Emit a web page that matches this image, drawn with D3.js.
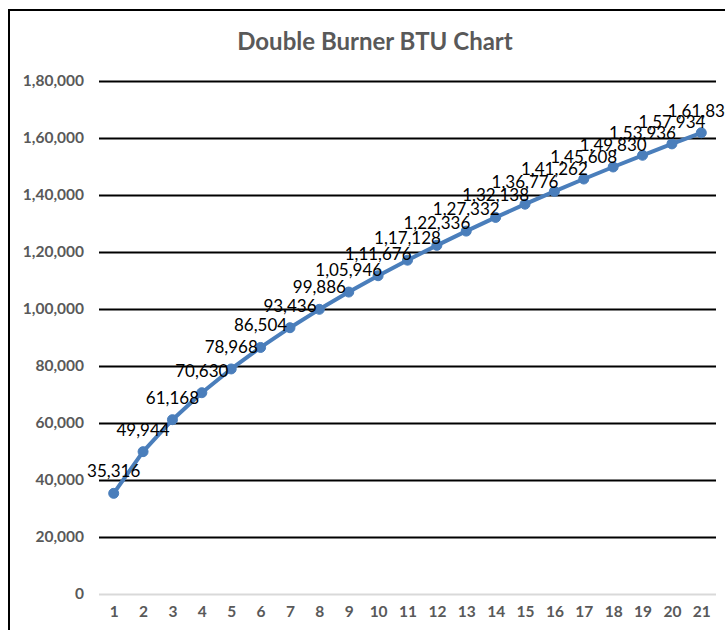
<!DOCTYPE html>
<html>
<head>
<meta charset="utf-8">
<script src="https://cdn.jsdelivr.net/npm/d3@7"></script>
<style>
  body { margin: 0; background: #fff; }
</style>
</head>
<body>
<script>
'use strict';

// chart data
const chartTitle = "Double Burner BTU Chart";
const burners = [1, 2, 3, 4, 5, 6, 7, 8, 9, 10, 11, 12, 13, 14, 15, 16, 17, 18, 19, 20, 21];
const btu = [35316, 49944, 61168, 70630, 78968, 86504, 93436, 99886, 105946, 111676,
  117128, 122336, 127332, 132138, 136776, 141262, 145608, 149830, 153936, 157934, 161834];
const yTicks = [0, 20000, 40000, 60000, 80000, 100000, 120000, 140000, 160000, 180000];

// indian style grouping: 1,61,834
function indianFormat(n) {
  let s = String(Math.round(n));
  if (s.length <= 3) return s;
  let last3 = s.slice(-3);
  let rest = s.slice(0, -3);
  rest = rest.replace(/\B(?=(\d{2})+(?!\d))/g, ',');
  return rest + ',' + last3;
}

const svg = d3.select('body')
  .append('svg')
  .attr('width', 725)
  .attr('height', 630)
  .style('font-family', 'Lato, "Open Sans", sans-serif');

// chart border (right and bottom run off the picture)
svg.append('rect')
  .attr('x', 9)
  .attr('y', 10)
  .attr('width', 740)
  .attr('height', 640)
  .attr('fill', 'white')
  .attr('stroke', 'black')
  .attr('stroke-width', 2);

// title
svg.append('text')
  .attr('x', 375)
  .attr('y', 50)
  .attr('text-anchor', 'middle')
  .style('font-size', '24px')
  .style('font-weight', 'bold')
  .attr('fill', '#595959')
  .text(chartTitle);

// scales
const xScale = d3.scalePoint()
  .domain(burners)
  .range([99, 716])
  .padding(0.5);

const yScale = d3.scaleLinear()
  .domain([0, 180000])
  .range([594, 81]);

// gridlines + y labels
const yAxis = svg.append('g')
  .attr('transform', 'translate(99, 0)')
  .call(d3.axisLeft(yScale)
    .tickValues(yTicks)
    .tickSize(-617)
    .tickPadding(15)
    .tickFormat(indianFormat));
yAxis.select('.domain').remove();
yAxis.selectAll('.tick line')
  .attr('stroke', d => d === 0 ? '#d9d9d9' : 'black')
  .attr('stroke-width', 2);
yAxis.selectAll('.tick text')
  .attr('fill', '#595959')
  .style('font-family', 'Lato, "Open Sans", sans-serif')
  .style('font-size', '15.5px')
  .style('font-weight', 'bold');

// x labels
const xAxis = svg.append('g')
  .attr('transform', 'translate(0, 594)')
  .call(d3.axisBottom(xScale).tickSize(0).tickPadding(12));
xAxis.select('.domain').remove();
xAxis.selectAll('.tick text')
  .attr('fill', '#595959')
  .style('font-family', 'Lato, "Open Sans", sans-serif')
  .style('font-size', '15.5px')
  .style('font-weight', 'bold');

const points = burners.map((b, i) => ({ x: b, y: btu[i] }));

// line
const line = d3.line()
  .x(d => xScale(d.x))
  .y(d => yScale(d.y));

svg.append('path')
  .datum(points)
  .attr('d', line)
  .attr('fill', 'none')
  .attr('stroke', '#4a7ebb')
  .attr('stroke-width', 4)
  .attr('stroke-linejoin', 'round');

// markers
svg.selectAll('.marker')
  .data(points)
  .enter()
  .append('circle')
  .attr('class', 'marker')
  .attr('cx', d => xScale(d.x))
  .attr('cy', d => yScale(d.y))
  .attr('r', 5)
  .attr('fill', '#4a7ebb')
  .attr('stroke', '#4a7ebb');

// data labels, centred above each point
svg.selectAll('.label')
  .data(points)
  .enter()
  .append('text')
  .attr('class', 'label')
  .attr('x', d => xScale(d.x))
  .attr('y', d => yScale(d.y) - 16)
  .attr('text-anchor', 'middle')
  .style('font-size', '17px')
  .attr('fill', 'black')
  .text(d => indianFormat(d.y));
</script>
</body>
</html>
